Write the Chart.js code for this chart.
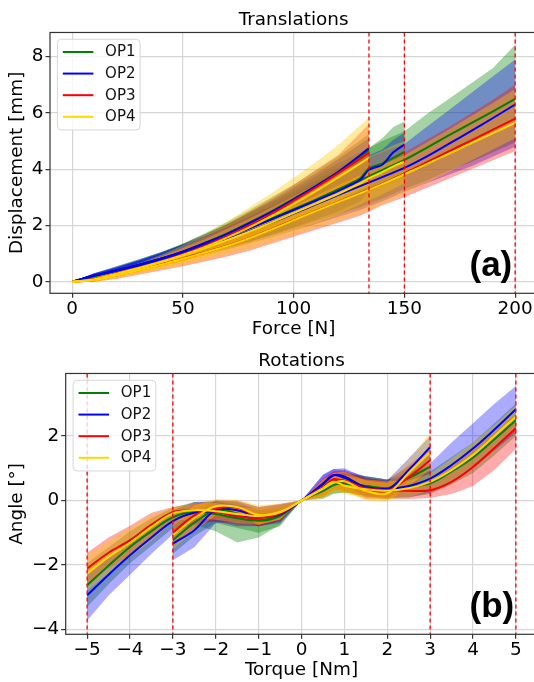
<!DOCTYPE html>
<html>
<head>
<meta charset="utf-8">
<script src="https://cdn.jsdelivr.net/npm/chart.js@4.4.1/dist/chart.umd.min.js"></script>
<style>
html, body { margin: 0; padding: 0; background: #fff; overflow: hidden; }
#wrap { position: relative; width: 534px; height: 682px; overflow: hidden; }
canvas { position: absolute; left: 0; }
#top { top: 0; }
#bot { top: 341px; }
</style>
</head>
<body>
<div id="wrap">
  <canvas id="top" width="560" height="341"></canvas>
  <canvas id="bot" width="560" height="341"></canvas>
</div>
<script>
// ---------- (a) Translations ----------
const forceTicks = [0, 50, 100, 150, 200];
const dispTicks = [0, 2, 4, 6, 8];
const forceLimits = [134, 150, 200];

const forceA = [0, 10, 20, 30, 40, 50, 60, 70, 80, 90, 100, 110, 120, 134];
const op1A    = [0, 0.20, 0.38, 0.58, 0.80, 1.07, 1.38, 1.72, 2.10, 2.50, 2.95, 3.40, 3.90, 4.68];
const op1A_hi = [0, 0.28, 0.50, 0.75, 1.02, 1.35, 1.72, 2.12, 2.55, 3.00, 3.45, 3.95, 4.45, 5.25];
const op1A_lo = [0, 0.12, 0.28, 0.45, 0.62, 0.84, 1.08, 1.35, 1.65, 1.98, 2.35, 2.72, 3.10, 3.65];
const op2A    = [0, 0.22, 0.40, 0.60, 0.82, 1.08, 1.38, 1.70, 2.08, 2.48, 2.93, 3.40, 3.90, 4.74];
const op2A_hi = [0, 0.30, 0.50, 0.75, 1.00, 1.32, 1.68, 2.05, 2.48, 2.90, 3.38, 3.85, 4.35, 5.10];
const op2A_lo = [0, 0.14, 0.30, 0.46, 0.64, 0.85, 1.08, 1.34, 1.64, 1.96, 2.32, 2.70, 3.10, 3.70];
const op3A    = [0, 0.10, 0.30, 0.50, 0.72, 0.98, 1.28, 1.62, 2.00, 2.42, 2.88, 3.35, 3.85, 4.58];
const op3A_hi = [0, 0.15, 0.38, 0.62, 0.90, 1.22, 1.60, 2.02, 2.48, 2.95, 3.45, 3.98, 4.50, 5.60];
const op3A_lo = [0, 0.02, 0.20, 0.36, 0.54, 0.74, 0.98, 1.25, 1.55, 1.88, 2.24, 2.60, 3.00, 3.55];
const op4A    = [0, 0.08, 0.28, 0.48, 0.70, 0.95, 1.24, 1.57, 1.93, 2.33, 2.76, 3.22, 3.70, 4.40];
const op4A_hi = [0, 0.15, 0.40, 0.65, 0.95, 1.30, 1.70, 2.15, 2.65, 3.15, 3.70, 4.25, 4.85, 5.84];
const op4A_lo = [0, 0.02, 0.18, 0.34, 0.52, 0.72, 0.95, 1.20, 1.48, 1.80, 2.14, 2.50, 2.88, 3.40];

const forceB = [0, 10, 20, 30, 40, 50, 60, 70, 80, 90, 100, 110, 120, 130, 134, 140, 145, 150];
const op1B    = [0, 0.20, 0.40, 0.60, 0.82, 1.05, 1.32, 1.62, 1.92, 2.25, 2.58, 2.92, 3.28, 3.68, 4.03, 4.20, 4.40, 4.62];
const op1B_hi = [0, 0.28, 0.52, 0.78, 1.05, 1.35, 1.68, 2.05, 2.42, 2.82, 3.22, 3.62, 4.05, 4.50, 4.75, 5.10, 5.50, 5.70];
const op1B_lo = [0, 0.12, 0.28, 0.44, 0.60, 0.78, 0.98, 1.20, 1.43, 1.68, 1.95, 2.22, 2.50, 2.85, 3.30, 3.40, 3.55, 3.70];
const op2B    = [0, 0.22, 0.40, 0.60, 0.82, 1.05, 1.32, 1.60, 1.90, 2.22, 2.55, 2.88, 3.22, 3.62, 3.98, 4.16, 4.60, 4.88];
const op2B_hi = [0, 0.30, 0.52, 0.76, 1.02, 1.30, 1.62, 1.95, 2.30, 2.68, 3.05, 3.42, 3.80, 4.20, 4.50, 4.70, 5.05, 5.30];
const op2B_lo = [0, 0.14, 0.30, 0.44, 0.60, 0.78, 0.98, 1.20, 1.42, 1.66, 1.92, 2.20, 2.50, 2.85, 3.20, 3.40, 3.70, 3.95];
const op4B    = [0, 0.08, 0.28, 0.48, 0.70, 0.93, 1.20, 1.48, 1.78, 2.10, 2.44, 2.78, 3.12, 3.50, 3.68, 3.90, 4.10, 4.27];
const op4B_hi = [0, 0.15, 0.38, 0.62, 0.90, 1.20, 1.52, 1.88, 2.25, 2.65, 3.05, 3.45, 3.85, 4.25, 4.45, 4.65, 4.85, 5.00];
const op4B_lo = [0, 0.02, 0.18, 0.34, 0.50, 0.68, 0.88, 1.10, 1.32, 1.56, 1.82, 2.10, 2.40, 2.75, 2.90, 3.10, 3.30, 3.50];

const forceC = [0, 10, 20, 30, 40, 50, 60, 70, 80, 90, 100, 110, 120, 130, 140, 150, 160, 170, 180, 190, 200];
const op1C    = [0, 0.20, 0.40, 0.60, 0.82, 1.05, 1.32, 1.60, 1.90, 2.22, 2.55, 2.90, 3.25, 3.60, 3.97, 4.33, 4.76, 5.20, 5.63, 6.06, 6.50];
const op1C_hi = [0, 0.30, 0.55, 0.80, 1.05, 1.35, 1.70, 2.05, 2.45, 2.85, 3.30, 3.75, 4.20, 4.60, 5.00, 5.35, 5.95, 6.50, 7.05, 7.60, 8.42];
const op1C_lo = [0, 0.10, 0.28, 0.45, 0.62, 0.80, 1.00, 1.20, 1.42, 1.66, 1.90, 2.15, 2.40, 2.65, 2.95, 3.30, 3.60, 3.95, 4.25, 4.60, 4.95];
const op2C    = [0, 0.22, 0.40, 0.58, 0.80, 1.02, 1.27, 1.52, 1.80, 2.10, 2.42, 2.75, 3.08, 3.40, 3.72, 4.05, 4.45, 4.90, 5.35, 5.82, 6.30];
const op2C_hi = [0, 0.30, 0.55, 0.78, 1.05, 1.32, 1.62, 1.95, 2.30, 2.68, 3.08, 3.50, 3.92, 4.30, 4.60, 4.90, 5.50, 6.10, 6.70, 7.30, 7.90];
const op2C_lo = [0, 0.12, 0.28, 0.42, 0.58, 0.75, 0.95, 1.15, 1.36, 1.58, 1.82, 2.05, 2.30, 2.55, 2.85, 3.20, 3.50, 3.80, 4.10, 4.45, 4.80];
const op3C    = [0, 0.05, 0.22, 0.42, 0.62, 0.83, 1.05, 1.28, 1.56, 1.87, 2.20, 2.52, 2.84, 3.15, 3.48, 3.85, 4.24, 4.63, 5.02, 5.41, 5.80];
const op3C_hi = [0, 0.15, 0.35, 0.60, 0.85, 1.10, 1.38, 1.68, 2.00, 2.35, 2.72, 3.10, 3.48, 3.85, 4.22, 4.60, 5.05, 5.50, 5.98, 6.48, 7.00];
const op3C_lo = [0, 0.00, 0.10, 0.25, 0.40, 0.55, 0.72, 0.90, 1.10, 1.35, 1.60, 1.85, 2.10, 2.35, 2.72, 3.00, 3.33, 3.66, 3.99, 4.32, 4.65];
const op4C    = [0, 0.05, 0.22, 0.41, 0.61, 0.82, 1.04, 1.27, 1.55, 1.86, 2.19, 2.51, 2.83, 3.14, 3.47, 3.82, 4.18, 4.55, 4.92, 5.28, 5.65];
const op4C_hi = [0, 0.15, 0.35, 0.58, 0.83, 1.08, 1.35, 1.65, 1.97, 2.32, 2.68, 3.05, 3.42, 3.78, 4.15, 4.50, 4.95, 5.40, 5.88, 6.35, 6.85];
const op4C_lo = [0, 0.00, 0.12, 0.27, 0.42, 0.58, 0.76, 0.95, 1.15, 1.40, 1.65, 1.90, 2.15, 2.42, 2.75, 3.10, 3.50, 3.90, 4.30, 4.70, 5.10];

// ---------- (b) Rotations ----------
const torqueTicks = [-5, -4, -3, -2, -1, 0, 1, 2, 3, 4, 5];
const angleTicks = [-4, -2, 0, 2];
const torqueLimits = [-5, -3, 3, 5];

const torqueW = [-5, -4.5, -4, -3.5, -3, -2.5, -2, -1.5, -1, -0.5, 0, 0.5, 0.75, 1, 1.5, 2, 2.5, 3, 3.5, 4, 4.5, 5];
const op1W    = [-2.63, -2.02, -1.44, -0.95, -0.52, -0.36, -0.42, -0.55, -0.62, -0.45, 0, 0.32, 0.50, 0.52, 0.45, 0.38, 0.42, 0.53, 0.90, 1.33, 1.90, 2.49];
const op1W_hi = [-1.95, -1.45, -0.95, -0.55, -0.22, -0.05, -0.05, -0.20, -0.30, -0.20, 0, 0.60, 0.80, 0.85, 0.75, 0.65, 0.72, 0.90, 1.35, 1.80, 2.40, 3.00];
const op1W_lo = [-3.30, -2.60, -1.95, -1.40, -0.85, -0.75, -0.95, -1.30, -1.15, -0.75, 0, 0.10, 0.25, 0.25, 0.15, 0.08, 0.10, 0.20, 0.50, 0.85, 1.40, 2.00];
const op2W    = [-2.94, -2.30, -1.70, -1.15, -0.64, -0.38, -0.35, -0.48, -0.52, -0.42, 0, 0.53, 0.79, 0.70, 0.42, 0.36, 0.45, 0.68, 1.10, 1.61, 2.20, 2.83];
const op2W_hi = [-2.30, -1.75, -1.20, -0.75, -0.30, -0.05, -0.02, -0.15, -0.25, -0.15, 0, 0.80, 0.98, 0.95, 0.75, 0.65, 0.85, 1.15, 1.80, 2.40, 3.00, 3.55];
const op2W_lo = [-3.72, -2.95, -2.30, -1.65, -1.05, -0.72, -0.65, -0.80, -0.80, -0.65, 0, 0.25, 0.50, 0.45, 0.12, 0.08, 0.10, 0.25, 0.55, 1.00, 1.55, 2.10];
const op3W    = [-2.11, -1.62, -1.23, -0.75, -0.36, -0.30, -0.35, -0.48, -0.55, -0.40, 0, 0.42, 0.66, 0.58, 0.38, 0.32, 0.30, 0.32, 0.58, 1.04, 1.63, 2.24];
const op3W_hi = [-1.62, -1.15, -0.78, -0.38, -0.20, -0.10, -0.08, -0.22, -0.28, -0.20, 0, 0.65, 0.90, 0.90, 0.70, 0.60, 0.55, 0.60, 1.05, 1.55, 2.10, 2.70];
const op3W_lo = [-2.65, -2.10, -1.70, -1.20, -0.65, -0.55, -0.65, -0.75, -0.80, -0.60, 0, 0.15, 0.35, 0.30, 0.10, 0.05, 0.05, 0.08, 0.20, 0.45, 0.95, 1.60];
const op4W    = [-2.27, -1.75, -1.31, -0.82, -0.40, -0.30, -0.33, -0.42, -0.48, -0.37, 0, 0.38, 0.58, 0.46, 0.35, 0.30, 0.38, 0.58, 0.94, 1.41, 2.00, 2.60];
const op4W_hi = [-1.70, -1.25, -0.85, -0.45, -0.22, -0.10, -0.08, -0.20, -0.25, -0.18, 0, 0.60, 0.82, 0.78, 0.65, 0.60, 0.62, 0.82, 1.30, 1.80, 2.35, 2.95];
const op4W_lo = [-2.80, -2.25, -1.75, -1.25, -0.65, -0.55, -0.60, -0.70, -0.75, -0.58, 0, 0.12, 0.30, 0.20, 0.08, 0.02, 0.10, 0.30, 0.60, 1.00, 1.60, 2.25];

const torqueN = [-3, -2.5, -2, -1.5, -1, -0.5, 0, 0.5, 0.75, 1, 1.5, 2, 2.5, 3];
const op1N    = [-1.23, -0.69, -0.30, -0.40, -0.62, -0.48, 0, 0.30, 0.48, 0.55, 0.45, 0.38, 0.70, 1.04];
const op1N_hi = [-0.80, -0.30, 0.00, -0.05, -0.30, -0.20, 0, 0.60, 0.78, 0.85, 0.75, 0.65, 1.05, 1.40];
const op1N_lo = [-1.65, -1.10, -0.70, -0.85, -1.00, -0.80, 0, 0.05, 0.20, 0.25, 0.15, 0.10, 0.35, 0.65];
const op2N    = [-1.34, -0.92, -0.30, -0.30, -0.50, -0.42, 0, 0.50, 0.78, 0.75, 0.40, 0.33, 0.95, 1.65];
const op2N_hi = [-0.90, -0.45, 0.00, -0.02, -0.20, -0.12, 0, 0.80, 0.98, 1.00, 0.70, 0.62, 1.30, 2.00];
const op2N_lo = [-1.85, -1.45, -0.70, -0.65, -0.80, -0.70, 0, 0.20, 0.50, 0.50, 0.10, 0.05, 0.60, 1.20];
const op3N    = [-1.00, -0.46, -0.25, -0.22, -0.50, -0.38, 0, 0.40, 0.62, 0.62, 0.35, 0.30, 0.72, 1.25];
const op3N_hi = [-0.60, -0.10, 0.00, 0.00, -0.20, -0.10, 0, 0.70, 0.92, 0.92, 0.65, 0.60, 1.10, 1.60];
const op3N_lo = [-1.45, -0.85, -0.55, -0.50, -0.80, -0.65, 0, 0.10, 0.32, 0.30, 0.05, 0.02, 0.35, 0.90];
const op4N    = [-1.08, -0.55, -0.18, -0.20, -0.45, -0.35, 0, 0.36, 0.55, 0.60, 0.30, 0.22, 0.85, 1.50];
const op4N_hi = [-0.65, -0.15, 0.05, 0.02, -0.15, -0.10, 0, 0.65, 0.85, 0.90, 0.62, 0.55, 1.25, 2.10];
const op4N_lo = [-1.50, -0.95, -0.45, -0.45, -0.75, -0.60, 0, 0.08, 0.25, 0.30, 0.00, -0.05, 0.45, 0.95];

const OPS = ['OP1', 'OP2', 'OP3', 'OP4'];
const lineColor = { OP1: '#008000', OP2: '#0000ff', OP3: '#ff0000', OP4: '#ffd700' };
const bandColor = { OP1: 'rgba(0,128,0,0.35)', OP2: 'rgba(0,0,255,0.33)', OP3: 'rgba(255,0,0,0.33)', OP4: 'rgba(255,200,0,0.38)' };
const FONT = 'DejaVu Sans';
const FSIZE = 18.4;

function pts(xs, ys) {
    return xs.map((x, i) => ({ x: x, y: ys[i] }));
}

// bands are drawn OP1 first, OP4 last (as matplotlib would), lines on top of all bands
function addCurve(sets, op, xs, mean, hi, lo, tension) {
    const k = OPS.indexOf(op);
    sets.push({ label: op + '_hi', data: pts(xs, hi), borderWidth: 0, borderColor: 'transparent',
                pointRadius: 0, fill: false, tension: 0, order: 24 - k });
    sets.push({ label: op + '_lo', data: pts(xs, lo), borderWidth: 0, borderColor: 'transparent',
                backgroundColor: bandColor[op], pointRadius: 0, fill: '-1', tension: 0, order: 24 - k });
    sets.push({ label: op, data: pts(xs, mean), borderColor: lineColor[op], borderWidth: 2,
                pointRadius: 0, fill: false, tension: tension, order: 5 - k });
}

function fmt(v) {
    return String(v).replace('-', '\u2212');
}

const vLines = {
    id: 'vLines',
    afterDatasetsDraw(chart, args, opts) {
        const ctx = chart.ctx, a = chart.chartArea, sx = chart.scales.x;
        ctx.save();
        ctx.strokeStyle = '#ff0000';
        ctx.lineWidth = 1.3;
        ctx.setLineDash([4, 3]);
        opts.values.forEach(v => {
            const px = sx.getPixelForValue(v);
            ctx.beginPath();
            ctx.moveTo(px, a.top);
            ctx.lineTo(px, a.bottom);
            ctx.stroke();
        });
        ctx.restore();
    }
};

const frameAndLegend = {
    id: 'frameAndLegend',
    afterDraw(chart, args, opts) {
        const ctx = chart.ctx, a = chart.chartArea;
        ctx.save();
        ctx.strokeStyle = '#333';
        ctx.lineWidth = 1.2;
        ctx.strokeRect(a.left, a.top, a.right - a.left, a.bottom - a.top);

        // legend box
        const x0 = a.left + 7.4, y0 = a.top + 6.8;
        ctx.beginPath();
        ctx.roundRect(x0, y0, 82.7, 90.7, 4);
        ctx.fillStyle = 'rgba(255,255,255,0.8)';
        ctx.fill();
        ctx.strokeStyle = '#d6d6d6';
        ctx.lineWidth = 1;
        ctx.stroke();
        ctx.font = '15px "' + FONT + '"';
        ctx.textBaseline = 'middle';
        OPS.forEach((op, i) => {
            const y = y0 + 12.7 + i * 21.6;
            ctx.strokeStyle = lineColor[op];
            ctx.lineWidth = 2;
            ctx.beginPath();
            ctx.moveTo(x0 + 5.4, y);
            ctx.lineTo(x0 + 36, y);
            ctx.stroke();
            ctx.fillStyle = '#111';
            ctx.fillText(op, x0 + 47.7, y + 0.5);
        });

        // panel tag
        ctx.font = 'bold 35px "Liberation Sans"';
        ctx.textBaseline = 'alphabetic';
        ctx.fillStyle = '#000';
        ctx.fillText(opts.tag, a.right - 67.8, a.bottom - 17.4);
        ctx.restore();
    }
};

function makeChart(id, cfg) {
    const tickFont = { family: FONT, size: FSIZE };
    const grid = { color: '#d6d6d6', lineWidth: 1.2, tickColor: '#333', tickLength: 4.5, tickWidth: 1.2 };
    return new Chart(document.getElementById(id), {
        type: 'line',
        data: { datasets: cfg.datasets },
        options: {
            responsive: false,
            animation: false,
            events: [],
            layout: { padding: { left: 0, right: 22.7, top: 0, bottom: 0 } },
            plugins: {
                legend: { display: false },
                tooltip: { enabled: false },
                title: { display: true, text: cfg.title, fullSize: false, color: '#000',
                         font: { family: FONT, size: FSIZE, weight: 'normal' },
                         padding: { top: 8.8, bottom: 1.6 } },
                vLines: { values: cfg.limits },
                frameAndLegend: { tag: cfg.tag }
            },
            scales: {
                x: {
                    type: 'linear', min: cfg.xRange[0], max: cfg.xRange[1],
                    afterBuildTicks: s => { s.ticks = cfg.xTicks.map(v => ({ value: v })); },
                    afterFit: s => { s.height = 47.7; },
                    ticks: { font: tickFont, color: '#000', padding: 0, maxRotation: 0, autoSkip: false, callback: fmt },
                    grid: grid,
                    border: { display: false },
                    title: { display: true, text: cfg.xTitle, color: '#000', font: tickFont, padding: { top: 0, bottom: 0.5 } }
                },
                y: {
                    type: 'linear', min: cfg.yRange[0], max: cfg.yRange[1],
                    afterBuildTicks: s => { s.ticks = cfg.yTicks.map(v => ({ value: v })); },
                    afterFit: s => { s.width = cfg.leftW; },
                    ticks: { font: tickFont, color: '#000', padding: 2, autoSkip: false, callback: fmt },
                    grid: grid,
                    border: { display: false },
                    title: { display: true, text: cfg.yTitle, color: '#000', font: tickFont, padding: { top: 6.5, bottom: 0 } }
                }
            }
        },
        plugins: [vLines, frameAndLegend]
    });
}

const topSets = [];
addCurve(topSets, 'OP1', forceA, op1A, op1A_hi, op1A_lo, 0.2);
addCurve(topSets, 'OP2', forceA, op2A, op2A_hi, op2A_lo, 0.2);
addCurve(topSets, 'OP3', forceA, op3A, op3A_hi, op3A_lo, 0.2);
addCurve(topSets, 'OP4', forceA, op4A, op4A_hi, op4A_lo, 0.2);
addCurve(topSets, 'OP1', forceB, op1B, op1B_hi, op1B_lo, 0.2);
addCurve(topSets, 'OP2', forceB, op2B, op2B_hi, op2B_lo, 0.2);
addCurve(topSets, 'OP4', forceB, op4B, op4B_hi, op4B_lo, 0.2);
addCurve(topSets, 'OP1', forceC, op1C, op1C_hi, op1C_lo, 0.2);
addCurve(topSets, 'OP2', forceC, op2C, op2C_hi, op2C_lo, 0.2);
addCurve(topSets, 'OP3', forceC, op3C, op3C_hi, op3C_lo, 0.2);
addCurve(topSets, 'OP4', forceC, op4C, op4C_hi, op4C_lo, 0.2);

const botSets = [];
addCurve(botSets, 'OP1', torqueW, op1W, op1W_hi, op1W_lo, 0.35);
addCurve(botSets, 'OP2', torqueW, op2W, op2W_hi, op2W_lo, 0.35);
addCurve(botSets, 'OP3', torqueW, op3W, op3W_hi, op3W_lo, 0.35);
addCurve(botSets, 'OP4', torqueW, op4W, op4W_hi, op4W_lo, 0.35);
addCurve(botSets, 'OP1', torqueN, op1N, op1N_hi, op1N_lo, 0.35);
addCurve(botSets, 'OP2', torqueN, op2N, op2N_hi, op2N_lo, 0.35);
addCurve(botSets, 'OP3', torqueN, op3N, op3N_hi, op3N_lo, 0.35);
addCurve(botSets, 'OP4', torqueN, op4N, op4N_hi, op4N_lo, 0.35);

makeChart('top', {
    datasets: topSets, title: 'Translations', tag: '(a)', limits: forceLimits,
    xRange: [-10, 210], xTicks: forceTicks, xTitle: 'Force [N]',
    yRange: [-0.41, 8.86], yTicks: dispTicks, yTitle: 'Displacement [mm]', leftW: 50
});

makeChart('bot', {
    datasets: botSets, title: 'Rotations', tag: '(b)', limits: torqueLimits,
    xRange: [-5.5, 5.5], xTicks: torqueTicks, xTitle: 'Torque [Nm]',
    yRange: [-4.15, 3.94], yTicks: angleTicks, yTitle: 'Angle [°]', leftW: 65.7
});
</script>
</body>
</html>
